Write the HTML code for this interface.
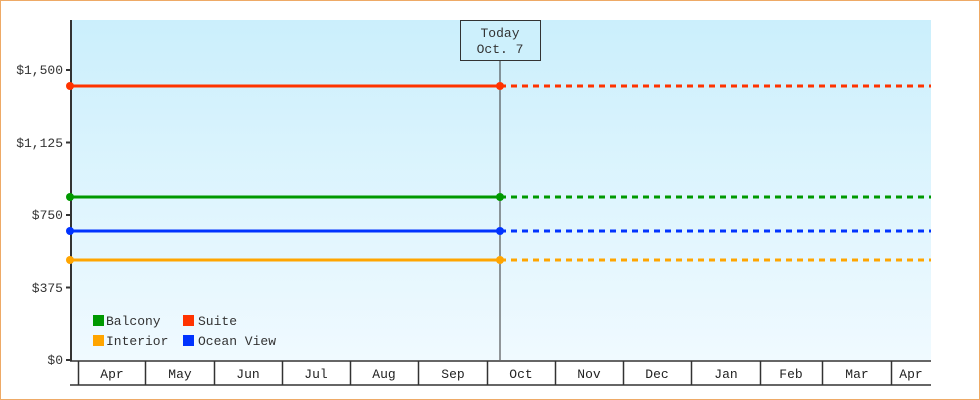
<!DOCTYPE html>
<html><head><meta charset="utf-8"><style>
body{margin:0;background:#fff}
</style></head><body>
<svg width="980" height="400" xmlns="http://www.w3.org/2000/svg" style="display:block;font-family:'Liberation Mono','DejaVu Sans Mono',monospace;font-size:13px">
<defs><linearGradient id="g" x1="0" y1="0" x2="0" y2="1"><stop offset="0" stop-color="#cbeffc"/><stop offset="1" stop-color="#f0faff"/></linearGradient></defs>
<rect x="0.5" y="0.5" width="979" height="399" fill="#fff" stroke="#eeaa66"/>
<rect x="71" y="20" width="860" height="340" fill="url(#g)"/>
<g fill="#333" text-anchor="end">
<text x="63" y="74">$1,500</text><text x="63" y="147">$1,125</text><text x="63" y="219">$750</text><text x="63" y="292">$375</text><text x="63" y="364">$0</text>
</g>
<g stroke="#333" stroke-width="2">
<line x1="66" y1="70" x2="71" y2="70"/><line x1="66" y1="142.5" x2="71" y2="142.5"/><line x1="66" y1="215" x2="71" y2="215"/><line x1="66" y1="287.5" x2="71" y2="287.5"/><line x1="66" y1="360" x2="71" y2="360"/>
<line x1="71" y1="20" x2="71" y2="361"/>
</g>
<line x1="500" y1="60" x2="500" y2="360" stroke="#333" stroke-width="1"/>
<rect x="460.5" y="20.5" width="80" height="40" fill="#cdf0fc" stroke="#333"/>
<text x="500" y="37" text-anchor="middle" fill="#333">Today</text>
<text x="500" y="53" text-anchor="middle" fill="#333">Oct. 7</text>
<g stroke-width="3">
<line x1="70" y1="86" x2="500" y2="86" stroke="#ff3300"/><line x1="500" y1="86" x2="931" y2="86" stroke="#ff3300" stroke-dasharray="6,5"/>
<line x1="70" y1="197" x2="500" y2="197" stroke="#009900"/><line x1="500" y1="197" x2="931" y2="197" stroke="#009900" stroke-dasharray="6,5"/>
<line x1="70" y1="231" x2="500" y2="231" stroke="#0033ff"/><line x1="500" y1="231" x2="931" y2="231" stroke="#0033ff" stroke-dasharray="6,5"/>
<line x1="70" y1="260" x2="500" y2="260" stroke="#ffa500"/><line x1="500" y1="260" x2="931" y2="260" stroke="#ffa500" stroke-dasharray="6,5"/>
</g>
<g>
<circle cx="70" cy="86" r="4" fill="#ff3300"/><circle cx="500" cy="86" r="4" fill="#ff3300"/>
<circle cx="70" cy="197" r="4" fill="#009900"/><circle cx="500" cy="197" r="4" fill="#009900"/>
<circle cx="70" cy="231" r="4" fill="#0033ff"/><circle cx="500" cy="231" r="4" fill="#0033ff"/>
<circle cx="70" cy="260" r="4" fill="#ffa500"/><circle cx="500" cy="260" r="4" fill="#ffa500"/>
</g>
<rect x="93" y="315" width="11" height="11" fill="#009900"/><text x="106" y="325" fill="#333">Balcony</text>
<rect x="183" y="315" width="11" height="11" fill="#ff3300"/><text x="198" y="325" fill="#333">Suite</text>
<rect x="93" y="335" width="11" height="11" fill="#ffa500"/><text x="106" y="345" fill="#333">Interior</text>
<rect x="183" y="335" width="11" height="11" fill="#0033ff"/><text x="198" y="345" fill="#333">Ocean View</text>
<g stroke="#333" stroke-width="1.5">
<line x1="70" y1="361" x2="931" y2="361"/><line x1="70" y1="385" x2="931" y2="385"/>
<line x1="78.5" y1="361" x2="78.5" y2="385"/><line x1="145.5" y1="361" x2="145.5" y2="385"/><line x1="214.5" y1="361" x2="214.5" y2="385"/><line x1="282.5" y1="361" x2="282.5" y2="385"/><line x1="350.5" y1="361" x2="350.5" y2="385"/><line x1="418.5" y1="361" x2="418.5" y2="385"/><line x1="487.5" y1="361" x2="487.5" y2="385"/><line x1="555.5" y1="361" x2="555.5" y2="385"/><line x1="623.5" y1="361" x2="623.5" y2="385"/><line x1="691.5" y1="361" x2="691.5" y2="385"/><line x1="760.5" y1="361" x2="760.5" y2="385"/><line x1="822.5" y1="361" x2="822.5" y2="385"/><line x1="891.5" y1="361" x2="891.5" y2="385"/>
</g>
<g fill="#222" text-anchor="middle">
<text x="112" y="378">Apr</text><text x="180" y="378">May</text><text x="248" y="378">Jun</text><text x="316" y="378">Jul</text><text x="384" y="378">Aug</text><text x="453" y="378">Sep</text><text x="521" y="378">Oct</text><text x="589" y="378">Nov</text><text x="657" y="378">Dec</text><text x="726" y="378">Jan</text><text x="791" y="378">Feb</text><text x="857" y="378">Mar</text><text x="911" y="378">Apr</text>
</g>
</svg>
</body></html>
